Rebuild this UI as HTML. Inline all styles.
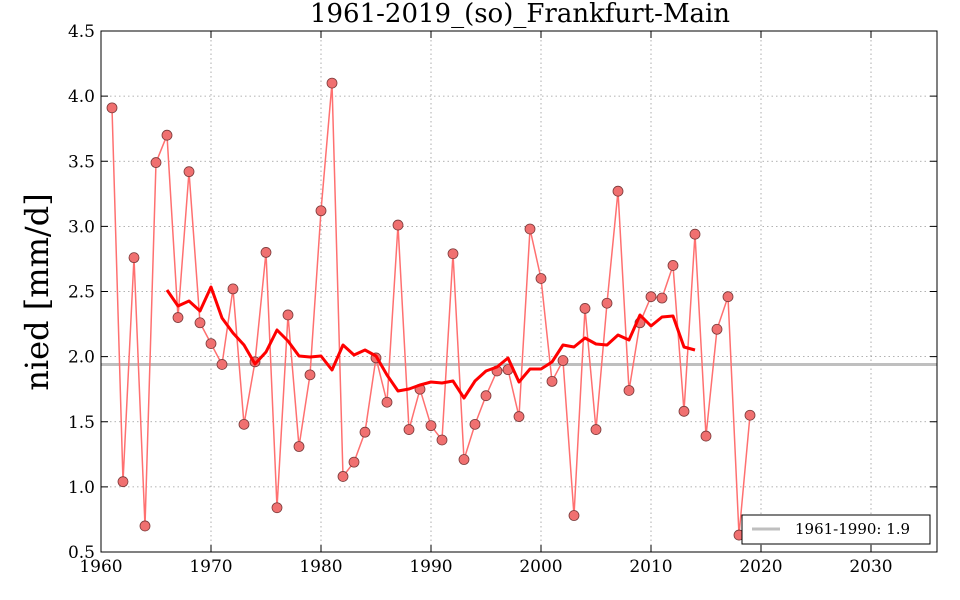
<!DOCTYPE html>
<html><head><meta charset="utf-8"><style>
html,body{margin:0;padding:0;background:#fff;width:960px;height:600px;overflow:hidden}
text{font-family:"DejaVu Serif","Liberation Serif",serif;fill:#000}
</style></head><body>
<svg id="s" width="960" height="600" xmlns="http://www.w3.org/2000/svg">
<rect width="960" height="600" fill="#fff"/>
<g id="grid" stroke="#999" stroke-width="0.8" stroke-dasharray="1.5,3"></g>
<line x1="101" y1="364.5" x2="937" y2="364.5" stroke="#bfbfbf" stroke-width="3"/>
<polyline id="raw" fill="none" stroke="#ff7070" stroke-width="1.5"/>
<g id="pts"></g>
<polyline id="avg" fill="none" stroke="#ff0000" stroke-width="3" stroke-linejoin="round"/>
<rect x="101" y="31" width="836" height="521" fill="none" stroke="#000" stroke-width="1"/>
<g id="ticks" stroke="#000" stroke-width="1"></g>
<g id="labels" font-size="17"></g>
<text x="520" y="22" font-size="26" text-anchor="middle">1961-2019_(so)_Frankfurt-Main</text>
<text transform="translate(48,292) rotate(-90)" font-size="32" text-anchor="middle">nied [mm/d]</text>
<rect x="742" y="515" width="188" height="29" fill="#fff" stroke="#000" stroke-width="1"/>
<line x1="752" y1="529" x2="780" y2="529" stroke="#bfbfbf" stroke-width="3"/>
<text x="795" y="534" font-size="15">1961-1990: 1.9</text>
</svg>
<script>
var NS="http://www.w3.org/2000/svg";
function X(yr){return 101+(yr-1960)*11}
function Y(v){return 31+(4.5-v)*130.25}
function el(t,a,p){var e=document.createElementNS(NS,t);for(var k in a)e.setAttribute(k,a[k]);p.appendChild(e);return e}
var g=document.getElementById('grid'),tk=document.getElementById('ticks'),lb=document.getElementById('labels');
for(var yr=1960;yr<=2030;yr+=10){var x=X(yr);
 if(yr>1960)el('line',{x1:x,y1:31,x2:x,y2:552},g);
 el('line',{x1:x,y1:552,x2:x,y2:545},tk);el('line',{x1:x,y1:31,x2:x,y2:38},tk);
 var t=el('text',{x:x,y:572,'text-anchor':'middle'},lb);t.textContent=yr;}
for(var i=0;i<=8;i++){var v=0.5+i*0.5,y=Y(v);
 if(i>0&&i<8)el('line',{x1:101,y1:y,x2:937,y2:y},g);
 el('line',{x1:101,y1:y,x2:108,y2:y},tk);el('line',{x1:937,y1:y,x2:930,y2:y},tk);
 var t=el('text',{x:95,y:y+6,'text-anchor':'end'},lb);t.textContent=v.toFixed(1);}
var d=[3.91,1.04,2.76,0.70,3.49,3.70,2.30,3.42,2.26,2.10,1.94,2.52,1.48,1.96,2.80,0.84,2.32,1.31,1.86,3.12,4.10,1.08,1.19,1.42,1.99,1.65,3.01,1.44,1.75,1.47,1.36,2.79,1.21,1.48,1.70,1.89,1.90,1.54,2.98,2.60,1.81,1.97,0.78,2.37,1.44,2.41,3.27,1.74,2.26,2.46,2.45,2.70,1.58,2.94,1.39,2.21,2.46,0.63,1.55];
var pts=[],pg=document.getElementById('pts');
d.forEach(function(v,i){var x=X(1961+i),y=Y(v);pts.push(x+','+y);
 el('circle',{cx:x,cy:y,r:5,fill:'#f07070',stroke:'#7a3a3a','stroke-width':0.8},pg);});
document.getElementById('raw').setAttribute('points',pts.join(' '));
var a=[290,306,301,311,287,318,333,345,364,352,330,341,356,357,356,370,345,355,350,356,375,391,389,385,382,383,381,398,381,371,367,358,382,369,369,362,345,347,338,344,345,335,340,315,326,317,316,347,350];
document.getElementById('avg').setAttribute('points',a.map(function(y,i){return X(1966+i)+','+y}).join(' '));
</script>
</body></html>
